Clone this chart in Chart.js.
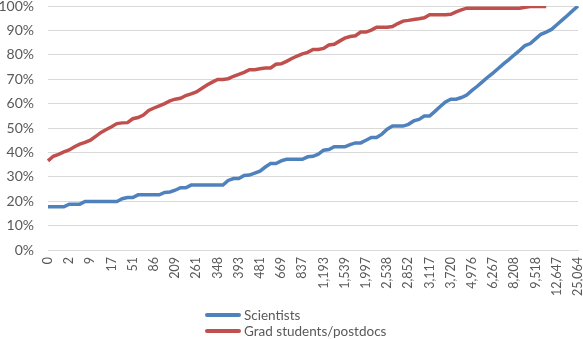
<!DOCTYPE html>
<html>
<head>
<meta charset="utf-8">
<script src="https://cdn.jsdelivr.net/npm/chart.js@4/dist/chart.umd.min.js"></script>
<style>
  body { margin: 0; background: #fff; }
  #wrap { position: relative; width: 583px; height: 339px; }
  #legend { position: absolute; left: 205px; top: 307px; font: 13.5px Lato; color: #595959; }
  .item { display: flex; align-items: center; height: 16px; }
  .swatch { width: 36px; height: 4px; margin-right: 3px; border-radius: 2px; }
</style>
</head>
<body>
<div id="wrap">
  <canvas id="c" width="583" height="339"></canvas>
  <div id="legend"></div>
</div>
<script>
// every 4th category carries a visible label
const tickLabels = ['0', '2', '9', '17', '51', '86', '209', '261', '348', '393', '481', '669', '837',
  '1,193', '1,539', '1,997', '2,538', '2,852', '3,117', '3,720', '4,976', '6,267', '8,208', '9,518',
  '12,647', '25,064'];

const scientists = [
  17.7, 17.7, 17.7, 17.7, 18.8, 18.8, 18.8, 19.9, 19.9, 19.9,
  19.9, 19.9, 19.9, 19.9, 21.0, 21.5, 21.5, 22.6, 22.6, 22.6,
  22.6, 22.6, 23.6, 23.8, 24.5, 25.5, 25.5, 26.6, 26.6, 26.6,
  26.6, 26.6, 26.6, 26.6, 28.5, 29.3, 29.3, 30.5, 30.7, 31.5,
  32.3, 34.0, 35.4, 35.4, 36.5, 37.2, 37.2, 37.2, 37.2, 38.2,
  38.4, 39.3, 40.9, 41.2, 42.3, 42.3, 42.3, 43.2, 43.9, 43.9,
  45.0, 46.1, 46.1, 47.5, 49.5, 50.8, 50.8, 50.8, 51.5, 52.9,
  53.5, 54.9, 54.9, 56.8, 58.8, 60.7, 61.8, 61.8, 62.5, 63.5,
  65.4, 67.1, 69.0, 70.9, 72.6, 74.5, 76.4, 78.1, 80.0, 81.8,
  83.8, 84.6, 86.5, 88.4, 89.3, 90.4, 92.3, 94.2, 96.1, 98.1,
  100
];

const gradStudents = [
  36.5, 38.4, 39.2, 40.2, 41.0, 42.3, 43.4, 44.1, 45.0, 46.6,
  48.2, 49.4, 50.5, 51.8, 52.1, 52.2, 53.8, 54.3, 55.3, 57.2,
  58.2, 59.1, 60.0, 61.1, 61.8, 62.2, 63.3, 64.0, 64.8, 66.2,
  67.6, 68.8, 69.9, 69.9, 70.2, 71.2, 72.0, 72.8, 73.9, 73.9,
  74.3, 74.6, 74.6, 76.1, 76.3, 77.3, 78.5, 79.5, 80.4, 81.0,
  82.2, 82.2, 82.6, 84.0, 84.3, 85.6, 86.8, 87.5, 87.8, 89.3,
  89.3, 90.1, 91.3, 91.3, 91.3, 91.6, 92.8, 93.8, 94.1, 94.5,
  94.8, 95.2, 96.4, 96.4, 96.4, 96.4, 96.6, 97.6, 98.4, 99.1,
  99.1, 99.1, 99.1, 99.1, 99.1, 99.1, 99.1, 99.1, 99.1, 99.1,
  99.5, 99.8, 99.8, 99.8, 99.8
];

const seriesNames = ['Scientists', 'Grad students/postdocs'];
const seriesColors = ['#4F81BD', '#C0504D'];

const categories = scientists.map((_, i) => (i % 4 === 0 ? tickLabels[i / 4] : ''));

Chart.defaults.font.family = 'Lato';
Chart.defaults.color = '#595959';

const ctx = document.getElementById('c').getContext('2d');
const chart = new Chart(ctx, {
  type: 'line',
  data: {
    labels: categories,
    datasets: [scientists, gradStudents].map((d, i) => ({
      label: seriesNames[i],
      data: d,
      borderColor: seriesColors[i],
      backgroundColor: seriesColors[i],
      borderWidth: 3.5,
      pointRadius: 0,
      tension: 0,
      fill: false,
    })),
  },
  options: {
    responsive: false,
    animation: false,
    layout: { padding: { left: 0, right: 5, top: 6, bottom: 0 } },
    plugins: {
      legend: { display: false },
      tooltip: { enabled: false },
    },
    scales: {
      x: {
        type: 'category',
        grid: { display: false, drawTicks: false },
        border: { display: true, color: '#d9d9d9' },
        ticks: { autoSkip: false, minRotation: 90, maxRotation: 90, padding: 7, font: { size: 12.5 } },
        afterFit: s => { s.height = 89; s.paddingLeft = 0; s.paddingRight = 0; },
      },
      y: {
        min: 0,
        max: 100,
        grid: { color: '#d9d9d9', drawTicks: false },
        border: { display: false },
        ticks: { stepSize: 10, padding: 14, font: { size: 14 }, callback: v => v + '%' },
        afterFit: s => { s.width = 48; s.paddingTop = 0; s.paddingBottom = 0; },
      },
    },
  },
});

// legend as a vertical list under the axis labels
const legend = document.getElementById('legend');
chart.data.datasets.forEach(ds => {
  const row = document.createElement('div');
  row.className = 'item';
  const sw = document.createElement('span');
  sw.className = 'swatch';
  sw.style.background = ds.borderColor;
  const txt = document.createElement('span');
  txt.textContent = ds.label;
  row.appendChild(sw);
  row.appendChild(txt);
  legend.appendChild(row);
});
</script>
</body>
</html>
